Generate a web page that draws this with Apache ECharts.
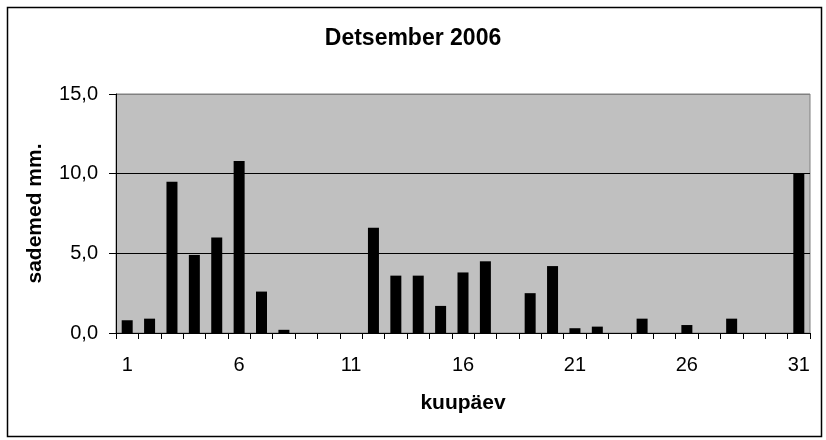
<!DOCTYPE html>
<html>
<head>
<meta charset="utf-8">
<script src="https://cdn.jsdelivr.net/npm/echarts@6/dist/echarts.min.js"></script>
<style>
html,body{margin:0;padding:0;background:#fff;}
#c{width:826px;height:440px;}
</style>
</head>
<body>
<div id="c"></div>
<script>
const days = ['1','2','3','4','5','6','7','8','9','10','11','12','13','14','15','16','17','18','19','20','21','22','23','24','25','26','27','28','29','30','31'];
const precipitation = [0.8,0.9,9.5,4.9,6.0,10.8,2.6,0.2,0,0,0,6.6,3.6,3.6,1.7,3.8,4.5,0,2.5,4.2,0.3,0.4,0,0.9,0,0.5,0,0.9,0,0,10.0];
const titleText = 'Detsember 2006';
const xName = 'kuupäev';
const yName = 'sademed mm.';
const yTicks = {min:0, max:15, interval:5};

const chart = echarts.init(document.getElementById('c'), null, {renderer:'canvas'});
const FONT = '"Liberation Sans", Arial, sans-serif';
chart.setOption({
  animation:false,
  backgroundColor:'#ffffff',
  textStyle:{fontFamily:FONT},
  graphic:[{
    type:'rect', left:5, top:5, z:-1,
    shape:{x:0,y:0,width:814,height:429},
    style:{fill:'none', stroke:'#000', lineWidth:1.5}
  }],
  title:{
    text:titleText, left:'center', top:22,
    textStyle:{fontFamily:FONT, fontSize:23, fontWeight:'bold', color:'#000'}
  },
  grid:{
    left:116, right:16, top:94, bottom:107,
    show:true, backgroundColor:'#c0c0c0', borderColor:'#808080', borderWidth:1
  },
  xAxis:{
    type:'category', data:days, boundaryGap:true,
    name:xName, nameLocation:'middle', nameGap:60,
    nameTextStyle:{fontFamily:FONT, fontSize:21, fontWeight:'bold', color:'#000'},
    axisLine:{lineStyle:{color:'#000', width:1}},
    axisTick:{show:true, interval:0, length:6, inside:false, lineStyle:{color:'#000'}},
    axisLabel:{interval:4, margin:22, fontFamily:FONT, fontSize:20, color:'#000'},
    splitLine:{show:false}
  },
  yAxis:{
    type:'value', min:yTicks.min, max:yTicks.max, interval:yTicks.interval,
    name:yName, nameLocation:'middle', nameGap:70, nameRotate:90,
    nameTextStyle:{fontFamily:FONT, fontSize:21, fontWeight:'bold', color:'#000'},
    axisLine:{show:true, lineStyle:{color:'#000', width:1}},
    axisTick:{show:true, length:7, lineStyle:{color:'#000'}},
    axisLabel:{margin:18, fontFamily:FONT, fontSize:20, color:'#000',
      formatter:v => v.toFixed(1).replace('.', ',')},
    splitLine:{show:true, lineStyle:{color:['#000','#000','#000','#808080'], width:1}}
  },
  series:[{
    type:'bar', data:precipitation, barWidth:11,
    itemStyle:{color:'#000'}
  }]
});
</script>
</body>
</html>
